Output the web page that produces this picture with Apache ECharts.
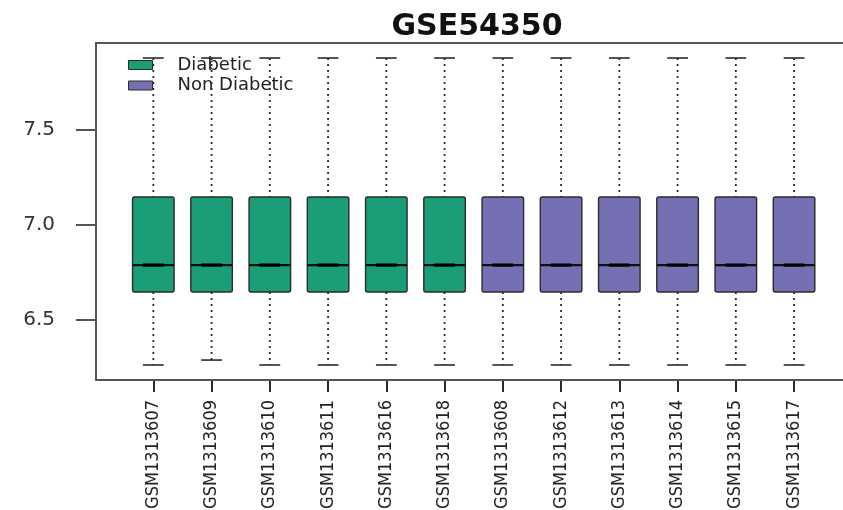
<!DOCTYPE html>
<html>
<head>
<meta charset="utf-8">
<script src="https://cdn.jsdelivr.net/npm/echarts@6/dist/echarts.min.js"></script>
<style>
html,body{margin:0;padding:0;background:#fff;}
#chart{width:843px;height:510px;}
</style>
</head>
<body>
<div id="chart"></div>
<script>
// ---- data ----
const titleText = 'GSE54350';
const groupNames = ['Diabetic', 'Non Diabetic'];
const samplesDiabetic = ['GSM1313607','GSM1313609','GSM1313610','GSM1313611','GSM1313616','GSM1313618'];
const samplesNonDiabetic = ['GSM1313608','GSM1313612','GSM1313613','GSM1313614','GSM1313615','GSM1313617'];
// five-number summaries per sample (whisker low, Q1, median, Q3, whisker high)
const lowDiabetic    = [6.263, 6.289, 6.263, 6.263, 6.263, 6.263];
const q1Diabetic     = [6.647, 6.647, 6.647, 6.647, 6.647, 6.647];
const medDiabetic    = [6.789, 6.789, 6.789, 6.789, 6.789, 6.789];
const q3Diabetic     = [7.147, 7.147, 7.147, 7.147, 7.147, 7.147];
const highDiabetic   = [7.879, 7.879, 7.879, 7.879, 7.879, 7.879];
const lowNonDiabetic  = [6.263, 6.263, 6.263, 6.263, 6.263, 6.263];
const q1NonDiabetic   = [6.647, 6.647, 6.647, 6.647, 6.647, 6.647];
const medNonDiabetic  = [6.789, 6.789, 6.789, 6.789, 6.789, 6.789];
const q3NonDiabetic   = [7.147, 7.147, 7.147, 7.147, 7.147, 7.147];
const highNonDiabetic = [7.879, 7.879, 7.879, 7.879, 7.879, 7.879];
const yTicks = [6.5, 7.0, 7.5];
const yMin = 6.184, yMax = 7.958;

// ---- build ----
const categories = samplesDiabetic.concat(samplesNonDiabetic);
function rows(names, lo, q1, md, q3, hi) {
  return names.map((n, i) => [n, lo[i], q1[i], md[i], q3[i], hi[i]]);
}
const dataDiabetic = rows(samplesDiabetic, lowDiabetic, q1Diabetic, medDiabetic, q3Diabetic, highDiabetic);
const dataNonDiabetic = rows(samplesNonDiabetic, lowNonDiabetic, q1NonDiabetic, medNonDiabetic, q3NonDiabetic, highNonDiabetic);

const dark = '#2b2b2b';
function renderBox(params, api) {
  const xi = api.value(0);
  const lo = api.coord([xi, api.value(1)]);
  const q1 = api.coord([xi, api.value(2)]);
  const md = api.coord([xi, api.value(3)]);
  const q3 = api.coord([xi, api.value(4)]);
  const hi = api.coord([xi, api.value(5)]);
  const band = api.size([1, 0])[0];
  const bw = band * 0.713;
  const sw = bw / 2;
  const cx = md[0];
  const color = api.visual('color');
  const dash = {stroke: dark, lineWidth: 1.8, lineDash: [2, 4]};
  const solid = {stroke: dark, lineWidth: 1.6};
  return {
    type: 'group',
    children: [
      {type: 'line', shape: {x1: cx, y1: hi[1], x2: cx, y2: q3[1]}, style: dash},
      {type: 'line', shape: {x1: cx, y1: q1[1], x2: cx, y2: lo[1]}, style: dash},
      {type: 'line', shape: {x1: cx - sw / 2, y1: hi[1], x2: cx + sw / 2, y2: hi[1]}, style: solid},
      {type: 'line', shape: {x1: cx - sw / 2, y1: lo[1], x2: cx + sw / 2, y2: lo[1]}, style: solid},
      {type: 'rect', shape: {x: cx - bw / 2, y: q3[1], width: bw, height: q1[1] - q3[1], r: 2},
        style: {fill: color, stroke: dark, lineWidth: 1.4}},
      {type: 'line', shape: {x1: cx - bw / 2, y1: md[1], x2: cx + bw / 2, y2: md[1]},
        style: {stroke: '#111', lineWidth: 2.2}},
      {type: 'line', shape: {x1: cx - bw / 4, y1: md[1], x2: cx + bw / 4, y2: md[1]},
        style: {stroke: '#000', lineWidth: 3.2}}
    ]
  };
}

const chart = echarts.init(document.getElementById('chart'), null, {renderer: 'canvas'});
chart.setOption({
  animation: false,
  backgroundColor: '#fff',
  title: {
    text: titleText,
    left: 472,
    textAlign: 'center',
    top: 7,
    textStyle: {fontFamily: 'DejaVu Sans', fontWeight: 'bold', fontSize: 30, color: '#111'}
  },
  legend: {
    orient: 'vertical',
    left: 123,
    top: 51,
    itemWidth: 24,
    itemHeight: 9,
    itemGap: 2.5,
    icon: 'rect',
    data: [
      {name: groupNames[0], itemStyle: {borderColor: dark, borderWidth: 1}},
      {name: groupNames[1], itemStyle: {borderColor: dark, borderWidth: 1}}
    ],
    textStyle: {fontFamily: 'DejaVu Sans', fontSize: 18, lineHeight: 18, color: '#222', padding: [0, 0, 0, 20]}
  },
  grid: [
    {left: 124.2, width: 699, top: 43, height: 337, show: false, outerBoundsMode: 'none', containLabel: false},
    {left: 96, width: 760, top: 43, height: 337, show: true, borderColor: '#555', borderWidth: 2, backgroundColor: 'transparent', z: 5, outerBoundsMode: 'none', containLabel: false}
  ],
  xAxis: [
    {
      type: 'category',
      gridIndex: 0,
      data: categories,
      boundaryGap: true,
      axisLine: {show: false},
      axisTick: {show: true, alignWithLabel: true, length: 12, lineStyle: {color: dark, width: 2}},
      axisLabel: {interval: 0, rotate: 90, margin: 20, fontSize: 18, fontFamily: 'DejaVu Sans Condensed, sans-serif', color: '#222'},
      splitLine: {show: false}
    },
    {type: 'value', gridIndex: 1, show: false, min: 0, max: 1}
  ],
  yAxis: [
    {
      type: 'value',
      gridIndex: 0,
      min: yMin,
      max: yMax,
      offset: 28.2,
      axisLine: {show: false},
      splitLine: {show: false},
      axisTick: {show: true, length: 20, customValues: yTicks, lineStyle: {color: '#555', width: 2}},
      axisLabel: {customValues: yTicks, margin: 41, fontSize: 20, fontFamily: 'DejaVu Sans', color: '#333',
        formatter: v => Number(v).toFixed(1)}
    },
    {type: 'value', gridIndex: 1, show: false, min: 0, max: 1}
  ],
  series: [
    {
      name: groupNames[0],
      type: 'custom',
      xAxisIndex: 0, yAxisIndex: 0,
      itemStyle: {color: '#1B9E77'},
      encode: {x: 0, y: [1, 2, 3, 4, 5]},
      renderItem: renderBox,
      data: dataDiabetic
    },
    {
      name: groupNames[1],
      type: 'custom',
      xAxisIndex: 0, yAxisIndex: 0,
      itemStyle: {color: '#7570B3'},
      encode: {x: 0, y: [1, 2, 3, 4, 5]},
      renderItem: renderBox,
      data: dataNonDiabetic
    }
  ]
});
</script>
</body>
</html>
